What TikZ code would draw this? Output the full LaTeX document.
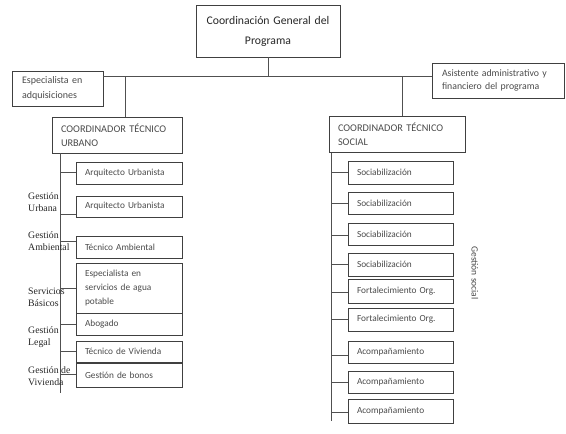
\documentclass[tikz,border=0pt]{standalone}
\usepackage{fontspec}
\setmainfont{Carlito}
\newfontfamily\serifl{Liberation Serif}
\definecolor{boxc}{HTML}{404040}
\definecolor{txtc}{HTML}{4A4A4A}
\definecolor{linec}{HTML}{505050}
\begin{document}
\begin{tikzpicture}[x=1pt,y=-1pt,
  box/.style={draw=boxc, line width=0.9pt, inner ysep=0pt, text=txtc, align=left},
  topbox/.style={box, minimum width=144pt, minimum height=52pt, inner xsep=0pt, text width=144pt, align=center, text=black!85, font=\fontsize{11.7}{20}\selectfont},
  sidebox/.style={box, minimum height=35pt, inner xsep=10pt, font=\fontsize{10}{15}\selectfont},
  coordbox/.style={box, minimum height=36pt, inner xsep=9pt, font=\fontsize{10.3}{14}\selectfont},
  subl/.style={box, inner xsep=9pt, text width=88pt, font=\fontsize{9.3}{14}\selectfont},
  subr/.style={box, inner xsep=9pt, text width=87pt, font=\fontsize{9.3}{14}\selectfont},
  lab/.style={anchor=west, align=left, inner sep=0pt, text=black!85, font=\serifl\fontsize{9.8}{12}\selectfont},
  conn/.style={draw=linec, line width=0.9pt}]
\useasboundingbox (0,0) rectangle (566,434);

% top level
\node[topbox] (T) at (268,31) {Coordinación General del\\Programa};
\node[sidebox, text width=71pt] (L) at (57.5,88.5) {Especialista en\\adquisiciones};
\node[sidebox, text width=112pt, font=\fontsize{9.8}{13}\selectfont] (R) at (498,80.5) {Asistente administrativo y\\financiero del programa};
\node[coordbox, text width=112pt] (U) at (117,135) {COORDINADOR TÉCNICO\\URBANO};
\node[coordbox, text width=118pt] (S) at (397,134.5) {COORDINADOR TÉCNICO\\SOCIAL};

\coordinate (h) at (0,76);
\coordinate (hu) at (125,76);
\coordinate (hs) at (402,76);
\draw[conn] (T.south) -- (T.south |- h);
\draw[conn] (L.east |- h) -- (R.west |- h);
\draw[conn] (hu) -- (hu |- U.north);
\draw[conn] (hs) -- (hs |- S.north);

% urban column
\node[subl, minimum height=22pt] (u1) at (129,173) {Arquitecto Urbanista};
\node[subl, minimum height=21pt] (u2) at (129,206.5) {Arquitecto Urbanista};
\node[subl, minimum height=22pt] (u3) at (129,247) {Técnico Ambiental};
\node[subl, minimum height=50pt] (u4) at (129,288) {Especialista en\\servicios de agua\\potable};
\node[subl, minimum height=22pt] (u5) at (129,324) {Abogado};
\node[subl, minimum height=21pt] (u6) at (129,351.5) {Técnico de Vivienda};
\node[subl, minimum height=24pt] (u7) at (129,375) {Gestión de bonos};

\coordinate (lend) at (60,393);
\draw[conn] (lend |- U.south) -- (lend);
\coordinate (t1) at (60,172);
\coordinate (t2) at (60,214);
\coordinate (t3) at (60,241);
\coordinate (t4) at (60,288);
\coordinate (t5) at (60,324);
\coordinate (t6) at (60,351);
\coordinate (t7) at (60,374);
\foreach \t/\b in {t1/u1,t2/u2,t3/u3,t4/u4,t5/u5,t6/u6,t7/u7}
  \draw[conn] (\t) -- (\t -| \b.west);

\node[lab] (g1) at (28,202) {Gestión\\Urbana};
\node[lab] (g2) at (28,241.5) {Gestión\\Ambiental};
\node[lab] (g3) at (28,297) {Servicios\\Básicos};
\node[lab] (g4) at (28,337) {Gestión\\Legal};
\node[lab] (g5) at (28,376.5) {Gestión de\\Vivienda};

% social column
\node[subr, minimum height=23pt] (s1) at (400.5,172.5) {Sociabilización};
\node[subr, minimum height=22pt] (s2) at (400.5,203) {Sociabilización};
\node[subr, minimum height=22pt] (s3) at (400.5,234) {Sociabilización};
\node[subr, minimum height=23pt] (s4) at (400.5,264.5) {Sociabilización};
\node[subr, minimum height=24pt] (f1) at (400.5,291) {Fortalecimiento Org.};
\node[subr, minimum height=23pt] (f2) at (400.5,319.5) {Fortalecimiento Org.};
\node[subr, minimum height=22pt] (a1) at (400.5,352) {Acompañamiento};
\node[subr, minimum height=22pt] (a2) at (400.5,382) {Acompañamiento};
\node[subr, minimum height=24pt] (a3) at (400.5,411) {Acompañamiento};

\coordinate (rend) at (331,421);
\draw[conn] (rend |- S.south) -- (rend);
\coordinate (r1) at (331,172);
\coordinate (r2) at (331,203);
\coordinate (r3) at (331,235);
\coordinate (r4) at (331,264);
\coordinate (r5) at (331,292);
\coordinate (r6) at (331,319);
\coordinate (r7) at (331,355);
\coordinate (r8) at (331,382);
\coordinate (r9) at (331,412);
\foreach \t/\b in {r1/s1,r2/s2,r3/s3,r4/s4,r5/f1,r6/f2,r7/a1,r8/a2,r9/a3}
  \draw[conn] (\t) -- (\t -| \b.west);

\node[rotate=-90, inner sep=0pt, text=txtc, font=\fontsize{9.5}{10}\selectfont] (gs) at (475,273) {Gestión social};
\end{tikzpicture}
\end{document}
